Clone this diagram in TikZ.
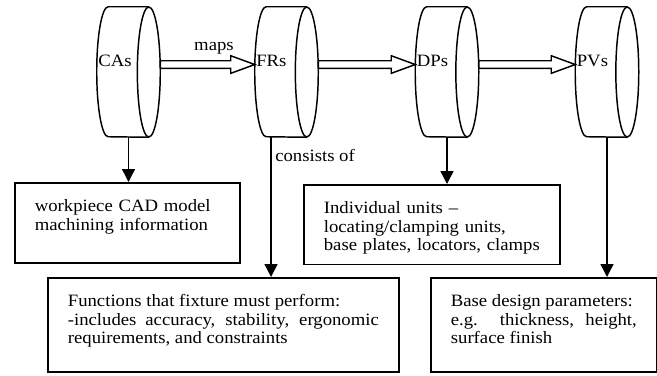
\documentclass[tikz,border=0pt]{standalone}
\usepackage{fontspec}
\setmainfont{Liberation Serif}[FakeStretch=1.08]
\usepackage{tikz}
\usetikzlibrary{shapes, positioning, calc, arrows.meta}

\begin{document}
\begin{tikzpicture}[x=0.75pt,y=-0.75pt]
\tikzstyle{every node}=[font=\fontsize{13}{13.7}\selectfont]
\tikzstyle{drum}=[rectangle, minimum width=47.25pt, minimum height=97.5pt, inner sep=0pt]
\tikzstyle{drumline}=[line width=1.1pt]
\tikzstyle{drumtext}=[inner sep=0pt, anchor=base west, xshift=1pt, yshift=4pt]
\tikzstyle{infobox}=[draw, line width=1.3pt, anchor=north west, inner xsep=15pt, inner ysep=0pt, text height=21.75pt]
\tikzstyle{down}=[-{Triangle[length=9.75pt,width=9.75pt]}, line width=1.1pt]
\tikzstyle{fat}=[draw, fill=white, line width=1.1pt, to path={let \p1=(\tikztostart), \p2=(\tikztotarget) in (\x1,\y1+2.85pt) -- (\x2-18pt,\y1+2.85pt) -- (\x2-18pt,\y1+6.6pt) -- (\x2,\y1) -- (\x2-18pt,\y1-6.6pt) -- (\x2-18pt,\y1-2.85pt) -- (\x1,\y1-2.85pt) -- cycle}]

\useasboundingbox (0,0) rectangle (657,375);

\node[drum, label={[drumtext]west:CAs}] (ca) at (128.5,72) {};
\node[drum, label={[drumtext]west:FRs}] (fr) at (286.5,72) {};
\node[drum, label={[drumtext]west:DPs}] (dp) at (447,72) {};
\node[drum, label={[drumtext]west:PVs}] (pv) at (607,72) {};
\foreach \n in {ca,fr,dp,pv}{
\draw[drumline] ([xshift=-8.6pt]\n.north east) -- ([xshift=8.6pt]\n.north west) arc[start angle=90, end angle=270, x radius=8.6pt, y radius=48.75pt] -- ([xshift=-8.6pt]\n.south east);
\draw[drumline] ([xshift=-8.6pt]\n.east) ellipse [x radius=8.6pt, y radius=48.75pt];
}

\node[infobox, text width=138.75pt, text depth=38.25pt, align=left] (cabox) at (14,182) {workpiece CAD model\\machining information};
\node[infobox, text width=233.25pt, text depth=48.75pt, align=justify] (frbox) at (47,277) {Functions that fixture must perform:\\-includes accuracy, stability, ergonomic\linebreak requirements, and constraints};
\node[infobox, text width=162pt, text depth=37.9pt, align=left] (dpbox) at (303,184) {Individual units --\\locating/clamping units,\\base plates, locators, clamps};
\node[infobox, text width=139.5pt, text depth=48.75pt, align=justify] (pvbox) at (430,277) {Base design parameters:\\e.g. thickness, height,\linebreak surface finish};

\draw[fat] ([yshift=5.6pt]ca.east) to (fr.west);
\draw[fat] ([yshift=5.6pt]fr.east) to (dp.west);
\draw[fat] ([yshift=5.6pt]dp.east) to (pv.west);
\node[anchor=base, inner sep=0pt] (maps) at (214,50) {maps};

\draw[down] (ca.south) -- (ca.south |- cabox.north);
\draw[down] ([xshift=-11.6pt]fr.south) coordinate (frfoot) -- (frfoot |- frbox.north);
\draw[down] (dp.south) -- (dp.south |- dpbox.north);
\draw[down] (pv.south) -- (pv.south |- pvbox.north);
\node[anchor=base west, inner sep=0pt] (consist) at (275,161) {consists of};

\end{tikzpicture}
\end{document}
